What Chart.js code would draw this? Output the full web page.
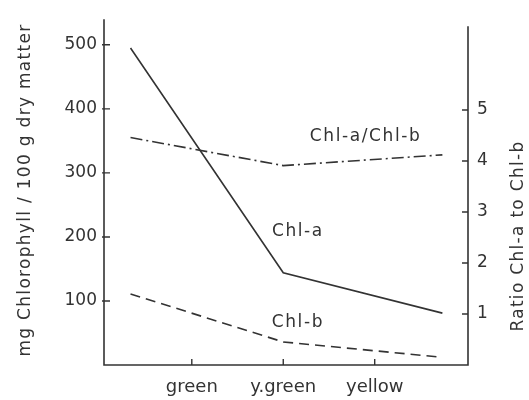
<!DOCTYPE html>
<html lang="en">
<head>
    <meta charset="UTF-8">
    <title>Chlorophyll content by leaf colour</title>
    <script src="https://cdn.jsdelivr.net/npm/chart.js@4.4.1/dist/chart.umd.min.js"></script>
    <style>
        html, body {
            margin: 0;
            padding: 0;
            background: #fff;
        }
        .wrap {
            position: relative;
            width: 529px;
            height: 400px;
        }
    </style>
</head>
<body>
    <div class="wrap">
        <canvas id="chlChart" width="529" height="400"></canvas>
    </div>

    <script>
        // data
        const categories = ['green', 'y.green', 'yellow'];
        const categoryTicks = [1, 2, 3];
        const sampleX = [0.33, 2, 3.74];
        const chlA = [495, 144, 81];
        const chlB = [111, 36, 12];
        const ratioAB = [4.46, 3.91, 4.12];
        const leftTicks = [100, 200, 300, 400, 500];
        const rightTicks = [1, 2, 3, 4, 5];

        const ink = '#333333';
        const fontFamily = "'DejaVu Sans', sans-serif";

        function points(ys) {
            return sampleX.map(function(x, i) { return { x: x, y: ys[i] }; });
        }

        // axis lines, inward tick marks, rotated titles and curve labels
        const figurePlugin = {
            id: 'figure',
            afterDraw: function(chart) {
                const ctx = chart.ctx;
                const area = chart.chartArea;
                const xs = chart.scales.x;
                const yl = chart.scales.y;
                const yr = chart.scales.y1;

                ctx.save();
                ctx.strokeStyle = ink;
                ctx.lineWidth = 1.6;
                ctx.beginPath();
                ctx.moveTo(area.left, area.top);
                ctx.lineTo(area.left, area.bottom);
                ctx.lineTo(area.right, area.bottom);
                ctx.lineTo(area.right, area.top + 7);
                ctx.stroke();

                ctx.lineWidth = 1.4;
                ctx.beginPath();
                leftTicks.forEach(function(v) {
                    const p = yl.getPixelForValue(v);
                    ctx.moveTo(area.left - 2, p);
                    ctx.lineTo(area.left + 6, p);
                });
                rightTicks.forEach(function(v) {
                    const p = yr.getPixelForValue(v);
                    ctx.moveTo(area.right - 6, p);
                    ctx.lineTo(area.right, p);
                });
                categoryTicks.forEach(function(v) {
                    const p = xs.getPixelForValue(v);
                    ctx.moveTo(p, area.bottom);
                    ctx.lineTo(p, area.bottom - 6);
                });
                ctx.stroke();

                ctx.fillStyle = ink;
                ctx.textAlign = 'center';
                ctx.textBaseline = 'middle';
                ctx.font = '17px ' + fontFamily;
                ctx.letterSpacing = '1.3px';

                ctx.save();
                ctx.translate(26, 190);
                ctx.rotate(-Math.PI / 2);
                ctx.fillText('mg Chlorophyll / 100 g dry matter', 0, 0);
                ctx.restore();

                ctx.save();
                ctx.translate(519, 236);
                ctx.rotate(-Math.PI / 2);
                ctx.fillText('Ratio Chl-a to Chl-b', 0, 0);
                ctx.restore();

                ctx.letterSpacing = '1.6px';
                ctx.fillText('Chl-a/Chl-b', xs.getPixelForValue(2.9), yl.getPixelForValue(357));
                ctx.fillText('Chl-a', xs.getPixelForValue(2.16), yl.getPixelForValue(208));
                ctx.fillText('Chl-b', xs.getPixelForValue(2.16), yl.getPixelForValue(66));
                ctx.restore();
            }
        };

        const ctx = document.getElementById('chlChart').getContext('2d');
        new Chart(ctx, {
            type: 'line',
            data: {
                datasets: [
                    {
                        label: 'Chl-a',
                        data: points(chlA),
                        yAxisID: 'y',
                        borderColor: ink,
                        borderWidth: 1.6
                    },
                    {
                        label: 'Chl-b',
                        data: points(chlB),
                        yAxisID: 'y',
                        borderColor: ink,
                        borderWidth: 1.6,
                        borderDash: [10, 6]
                    },
                    {
                        label: 'Chl-a/Chl-b',
                        data: points(ratioAB),
                        yAxisID: 'y1',
                        borderColor: ink,
                        borderWidth: 1.6,
                        borderDash: [12, 4, 2, 4]
                    }
                ]
            },
            options: {
                responsive: false,
                animation: false,
                devicePixelRatio: 1,
                layout: {
                    padding: { top: 15, left: 0, right: 0, bottom: 0 }
                },
                elements: {
                    point: { radius: 0 },
                    line: { tension: 0, fill: false }
                },
                plugins: {
                    legend: { display: false },
                    tooltip: { enabled: false }
                },
                scales: {
                    x: {
                        type: 'linear',
                        min: 0.04,
                        max: 4.02,
                        grid: { display: false, drawTicks: false },
                        border: { display: false },
                        afterBuildTicks: function(scale) {
                            scale.ticks = categoryTicks.map(function(v) { return { value: v }; });
                        },
                        afterFit: function(scale) { scale.height = 35; },
                        ticks: {
                            padding: 12,
                            autoSkip: false,
                            color: ink,
                            font: { family: fontFamily, size: 18 },
                            maxRotation: 0,
                            callback: function(value) {
                                return categories[categoryTicks.indexOf(value)];
                            }
                        }
                    },
                    y: {
                        position: 'left',
                        min: 0,
                        max: 540,
                        grid: { display: false, drawTicks: false },
                        border: { display: false },
                        afterBuildTicks: function(scale) {
                            scale.ticks = leftTicks.map(function(v) { return { value: v }; });
                        },
                        afterFit: function(scale) { scale.width = 104; },
                        ticks: {
                            padding: 7,
                            autoSkip: false,
                            color: ink,
                            font: { family: fontFamily, size: 17 }
                        }
                    },
                    y1: {
                        position: 'right',
                        min: 0,
                        max: 6.78,
                        grid: { display: false, drawTicks: false },
                        border: { display: false },
                        afterBuildTicks: function(scale) {
                            scale.ticks = rightTicks.map(function(v) { return { value: v }; });
                        },
                        afterFit: function(scale) { scale.width = 61; },
                        ticks: {
                            padding: 9,
                            autoSkip: false,
                            color: ink,
                            font: { family: fontFamily, size: 17 }
                        }
                    }
                }
            },
            plugins: [figurePlugin]
        });
    </script>
</body>
</html>
